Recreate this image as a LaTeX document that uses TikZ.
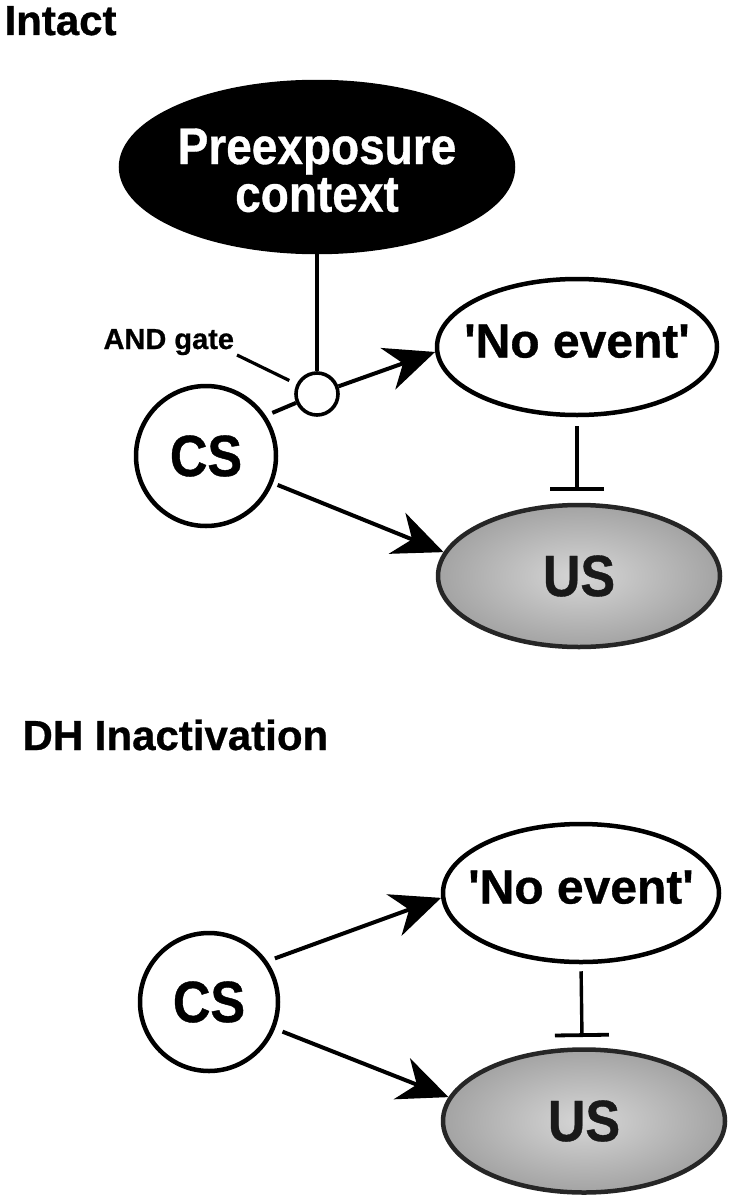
\documentclass[tikz,border=0pt]{standalone}
\usepackage{fontspec}
\setmainfont{Liberation Sans}[BoldFeatures={FakeBold=0.7}]
\usetikzlibrary{arrows.meta,shapes.geometric,calc}
\newcommand\fsz[1]{\fontsize{#1}{#1}\selectfont}
\newcommand\zb[1]{\makebox[0pt]{#1}}
\newcommand\tall[1]{\scalebox{1}[1.12]{#1}}
\begin{document}
\begin{tikzpicture}[x=1pt,y=-1pt,
  outl/.style={draw, line width=4.5pt},
  ell/.style={ellipse, outl, inner sep=0pt},
  ringnode/.style={circle, outl, inner sep=0pt},
  con/.style={line width=4pt},
  arr/.style={con, -{Stealth[length=50pt,width=44pt,inset=16pt]}},
  inh/.style={line width=3.4pt, -{Bar[width=54pt,line width=3.8pt]}},
  fine/.style={line width=3.2pt},
  usfill/.style={ell, draw=black!85, line width=4.5pt, shading=radial, inner color=black!16, outer color=black!36, text=black!90},
  title/.style={anchor=base west, font=\bfseries\fsz{42}},
  big/.style={font=\bfseries\fsz{52}},
  mid/.style={font=\bfseries\fsz{48}, text depth=12pt},
]
\fill[white] (0,0) rectangle (734,1199);
\useasboundingbox (0,0) rectangle (734,1199);

% ---------- Intact ----------
\node[title] (t1) at (1,35) {Intact};
\node[ell, fill=black, text=white, minimum width=392pt, minimum height=170pt,
      font=\bfseries\fontsize{46}{47}\selectfont]
      (pre) at (317,167)
      {\raisebox{3pt}[0pt][0pt]{\zb{\begin{tabular}[t]{@{}c@{}}\tall{Preexposure}\\\tall{context}\end{tabular}}}};
\node[ringnode, line width=3.6pt, minimum size=42pt] (gate) at (317,394) {};
\node[anchor=base west, font=\bfseries\fsz{29}] (andl) at (100,349) {AND gate};
\coordinate (lead) at (237,355);
\node[ell, mid, minimum width=280pt, minimum height=136pt] (nev1) at (577,347)
      {\zb{\textquotesingle No event\textquotesingle}};
\node[ringnode, big, minimum size=140pt] (cs1) at (206,456) {\tall{CS}};
\node[usfill, big, minimum width=282pt, minimum height=142pt] (us1) at (579,576) {\tall{US}};
\coordinate (bar1) at (577,491);

\draw[fine] (pre) -- (gate);
\draw[fine, shorten >=8pt] (lead) -- (gate);
\draw[con, shorten <=7pt] (cs1.34) -- (gate);
\draw[arr] (gate) -- (nev1.182);
\draw[arr, shorten <=5pt] (cs1.-22) -- (us1.170);
\draw[inh, shorten <=9pt] (nev1.south) -- (bar1);

% ---------- DH Inactivation ----------
\node[title] (t2) at (19,750) {DH Inactivation};
\node[ell, mid, minimum width=276pt, minimum height=138pt] (nev2) at (581,893)
      {\zb{\textquotesingle No event\textquotesingle}};
\node[ringnode, big, minimum size=138pt] (cs2) at (209,1002) {\tall{CS}};
\node[usfill, big, minimum width=282pt, minimum height=143pt] (us2) at (584,1121) {\tall{US}};
\coordinate (bar2) at (582,1037);

\draw[arr, shorten <=8pt] (cs2.35) -- (nev2.182);
\draw[arr, shorten <=8pt] (cs2.-22) -- (us2.170);
\draw[inh, shorten <=7pt] (nev2.south) -- (bar2);
\end{tikzpicture}
\end{document}
